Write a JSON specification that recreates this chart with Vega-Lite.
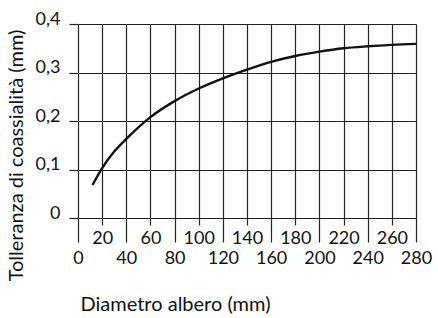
{
  "$schema": "https://vega.github.io/schema/vega-lite/v6.json",
  "autosize": {"type": "none"},
  "padding": {"left": 78, "top": 24, "right": 22, "bottom": 100},
  "width": 338,
  "height": 194,
  "background": "white",
  "config": {
    "view": {"stroke": null},
    "font": "Lato",
    "axis": {"labelFont": "Lato", "titleFont": "Lato", "labelColor": "#111", "titleColor": "#111", "titleFontWeight": "normal"}
  },
  "data": {
    "values": [
      {"d": 12, "t": 0.068},
      {"d": 20, "t": 0.103},
      {"d": 30, "t": 0.137},
      {"d": 40, "t": 0.163},
      {"d": 60, "t": 0.208},
      {"d": 80, "t": 0.241},
      {"d": 100, "t": 0.267},
      {"d": 120, "t": 0.288},
      {"d": 140, "t": 0.306},
      {"d": 160, "t": 0.322},
      {"d": 180, "t": 0.334},
      {"d": 200, "t": 0.343},
      {"d": 220, "t": 0.350},
      {"d": 240, "t": 0.354},
      {"d": 260, "t": 0.357},
      {"d": 280, "t": 0.359}
    ]
  },
  "mark": {"type": "line", "interpolate": "monotone", "color": "#111", "strokeWidth": 2.4},
  "encoding": {
    "x": {
      "field": "d", "type": "quantitative",
      "scale": {"domain": [0, 280], "nice": false, "zero": false},
      "axis": {
        "values": [0, 20, 40, 60, 80, 100, 120, 140, 160, 180, 200, 220, 240, 260, 280],
        "grid": true, "gridColor": "#222", "gridWidth": 1.2, "gridOpacity": 1,
        "domain": false,
        "ticks": true, "tickColor": "#222", "tickWidth": 1.2,
        "tickSize": {"condition": {"test": "datum.value % 40 === 0", "value": 24}, "value": 7},
        "labelPadding": {"condition": {"test": "datum.value % 40 === 0", "value": 7}, "value": 4},
        "labelFontSize": 18, "labelFlush": false, "labelOverlap": false, "labelBound": false,
        "labelBaseline": "top",
        "title": "Diametro albero (mm)", "titleFontSize": 20,
        "titleX": 2, "titleY": 86, "titleAlign": "left", "titleBaseline": "middle", "titleAnchor": null
      }
    },
    "y": {
      "field": "t", "type": "quantitative",
      "scale": {"domain": [0, 0.4], "nice": false},
      "axis": {
        "values": [0, 0.1, 0.2, 0.3, 0.4],
        "labelExpr": "datum.value === 0 ? '0' : replace(format(datum.value, '.1f'), '.', ',')",
        "grid": true, "gridColor": "#222", "gridWidth": 1.2, "gridOpacity": 1,
        "domain": false,
        "ticks": true, "tickColor": "#222", "tickWidth": 1.2, "tickSize": 9,
        "labelPadding": 9, "labelFontSize": 18, "labelOffset": -5, "labelFlush": false, "labelOverlap": false, "labelBound": false,
        "title": "Tolleranza di coassialità (mm)", "titleFontSize": 20,
        "titleX": -62, "titleY": 131, "titleAngle": -90, "titleAlign": "center", "titleBaseline": "middle"
      }
    }
  }
}
